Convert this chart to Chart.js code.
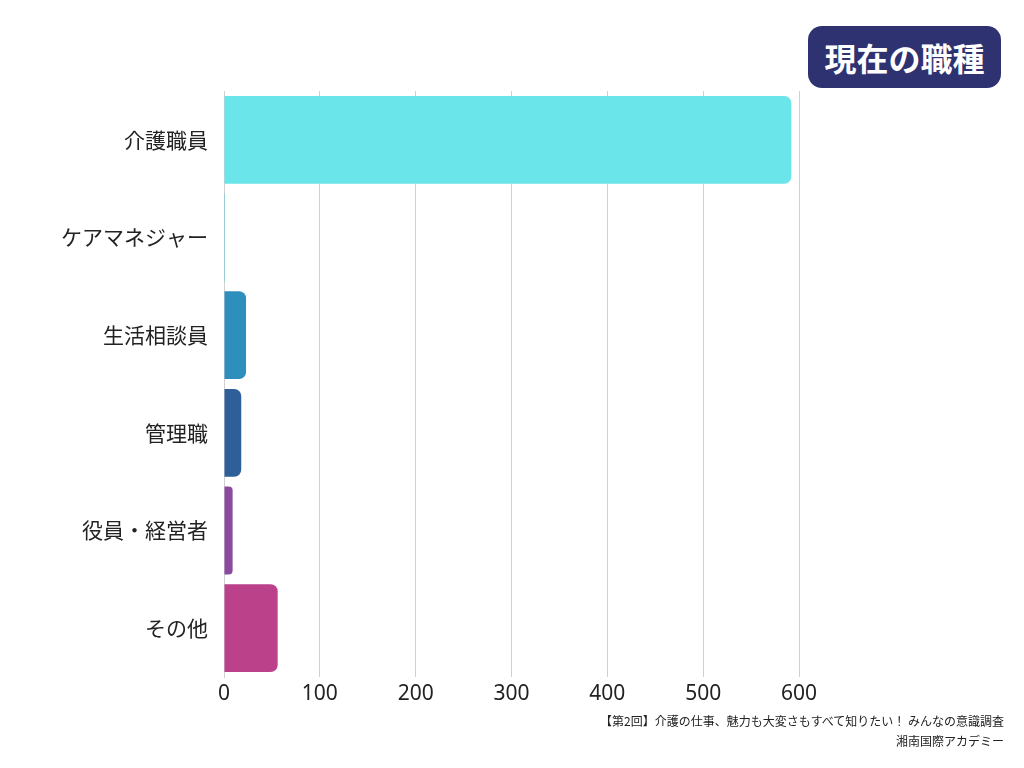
<!DOCTYPE html>
<html>
<head>
<meta charset="utf-8">
<script src="https://cdn.jsdelivr.net/npm/chart.js@4/dist/chart.umd.min.js"></script>
<style>
  body { margin: 0; background: #fff; font-family: "Noto Sans CJK JP", sans-serif; }
  #wrap { position: relative; width: 1024px; height: 768px; }
  #title { position: absolute; left: 808px; top: 26px; width: 193px; height: 62px; border-radius: 14px;
    background: #2e3270; color: #fff; font-size: 32px; font-weight: bold; line-height: 62px; text-align: center; }
  .foot { position: absolute; right: 20px; font-size: 12px; color: #222; }
</style>
</head>
<body>
<div id="wrap">
  <canvas id="chart" width="1024" height="768"></canvas>
  <div id="title">現在の職種</div>
  <div class="foot" style="top:712px">【第2回】介護の仕事、魅力も大変さもすべて知りたい！ みんなの意識調査</div>
  <div class="foot" style="top:732px">湘南国際アカデミー</div>
</div>
<script>
const categories = ["介護職員", "ケアマネジャー", "生活相談員", "管理職", "役員・経営者", "その他"];
const counts = [592, 1, 23, 18, 9, 56];
const barColors = ["#6ae5ea", "#5bc8e0", "#2e8fbd", "#2e5f98", "#8a4a9e", "#bb418b"];

const ctx = document.getElementById("chart").getContext("2d");
new Chart(ctx, {
    type: "bar",
    data: {
        labels: categories,
        datasets: [{
            data: counts,
            backgroundColor: barColors,
            borderRadius: 7,
            borderSkipped: "start",
            categoryPercentage: 0.9,
            barPercentage: 1
        }]
    },
    options: {
        indexAxis: "y",
        responsive: false,
        animation: false,
        layout: { padding: { top: 91, right: 225, bottom: 0, left: 0 } },
        plugins: { legend: { display: false }, tooltip: { enabled: false } },
        scales: {
            x: {
                min: 0, max: 600,
                ticks: { stepSize: 100, color: "#222", font: { size: 21, family: "Noto Sans" }, padding: 4 },
                grid: { color: "#d0d0d0", drawTicks: false },
                border: { display: false },
                afterFit: (s) => { s.height = 91; }
            },
            y: {
                ticks: { color: "#222", font: { size: 21, family: "Noto Sans CJK JP" }, padding: 8 },
                grid: { display: false },
                border: { color: "#d0d0d0" },
                afterFit: (s) => { s.width = 224; }
            }
        }
    }
});
</script>
</body>
</html>
